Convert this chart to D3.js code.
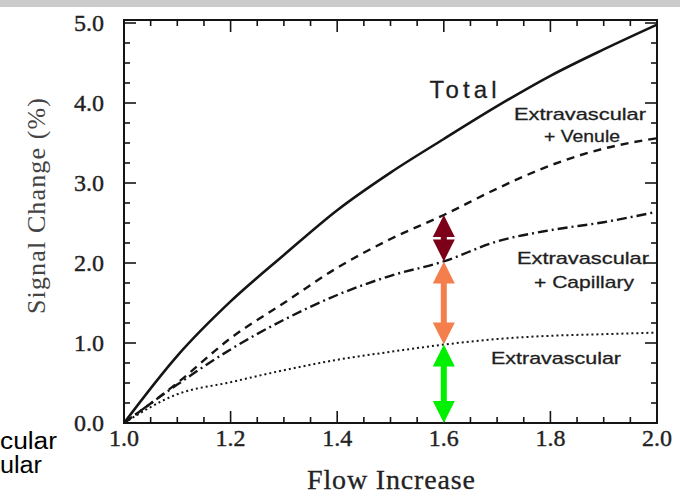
<!DOCTYPE html>
<html>
<head>
<meta charset="utf-8">
<script src="https://cdn.jsdelivr.net/npm/d3@7"></script>
<style>
  html, body { margin: 0; padding: 0; background: #fff; }
  svg { display: block; }
</style>
</head>
<body>
<div id="chart"></div>
<script>
// Signal change vs flow increase — recreated from a scanned figure

const flow = [1.0, 1.1, 1.2, 1.3, 1.4, 1.5, 1.6, 1.7, 1.8, 1.9, 2.0];
const total = [0, 0.84, 1.52, 2.1, 2.66, 3.13, 3.55, 3.96, 4.34, 4.67, 4.98];
const venule = [0, 0.5, 1.06, 1.5, 1.94, 2.3, 2.6, 2.93, 3.22, 3.43, 3.56];
const capillary = [0, 0.48, 0.92, 1.29, 1.6, 1.84, 2.02, 2.27, 2.41, 2.51, 2.64];
const extra = [0, 0.36, 0.51, 0.66, 0.79, 0.89, 0.98, 1.05, 1.09, 1.11, 1.13];

const xTicks = [1.0, 1.2, 1.4, 1.6, 1.8, 2.0];
const yTicks = [0, 1, 2, 3, 4, 5];

// double arrows at flow = 1.6: [from, to, colour]
const arrows = [
  { x: 1.6, y0: 2.6, y1: 2.02, color: '#7c0018' },
  { x: 1.6, y0: 2.02, y1: 0.98, color: '#f47f4d' },
  { x: 1.6, y0: 0.98, y1: 0.0, color: '#00f000' }
];

const W = 680, H = 494;
const svg = d3.select('#chart').append('svg')
  .attr('width', W)
  .attr('height', H);

// grey strip along the top
svg.append('rect').attr('x', 0).attr('y', 0).attr('width', W).attr('height', 7).attr('fill', '#cbcbcb');

const x = d3.scaleLinear().domain([1, 2]).range([124, 657]);
const y = d3.scaleLinear().domain([0, 5]).range([423, 23]);

const ink = '#151515';
const serif = '"Liberation Serif", "DejaVu Serif", serif';
const sans = '"Liberation Sans", Arial, sans-serif';

// frame
svg.append('rect')
  .attr('x', x(1)).attr('y', y(5) - 3)
  .attr('width', x(2) - x(1)).attr('height', y(0) - y(5) + 3)
  .attr('fill', 'none').attr('stroke', ink).attr('stroke-width', 2);

// inward ticks on all four sides
const xMinor = d3.range(1, 2.0001, 0.05);
const yMinor = d3.range(0, 5.0001, 0.25);
const isMajor = (v, step) => Math.abs(v / step - Math.round(v / step)) < 1e-6;

const tg = svg.append('g').attr('stroke', ink).attr('stroke-width', 1.6);
xMinor.forEach(v => {
  const len = isMajor(v - 1, 0.2) ? 12 : 6;
  tg.append('line').attr('x1', x(v)).attr('x2', x(v)).attr('y1', y(0)).attr('y2', y(0) - len);
  tg.append('line').attr('x1', x(v)).attr('x2', x(v)).attr('y1', y(5) - 3).attr('y2', y(5) - 3 + len);
});
yMinor.forEach(v => {
  const len = isMajor(v, 1) ? 12 : 6;
  tg.append('line').attr('x1', x(1)).attr('x2', x(1) + len).attr('y1', y(v)).attr('y2', y(v));
  tg.append('line').attr('x1', x(2)).attr('x2', x(2) - len).attr('y1', y(v)).attr('y2', y(v));
});

// tick labels
svg.append('g').selectAll('text')
  .data(xTicks)
  .join('text')
  .attr('x', d => x(d))
  .attr('y', 446)
  .attr('text-anchor', 'middle')
  .attr('font-family', serif)
  .attr('font-size', 24)
  .attr('fill', '#222')
  .attr('stroke', '#222')
  .attr('stroke-width', 0.4)
  .text(d => d.toFixed(1));

svg.append('g').selectAll('text')
  .data(yTicks)
  .join('text')
  .attr('x', 104)
  .attr('y', d => y(d) + 8)
  .attr('text-anchor', 'end')
  .attr('font-family', serif)
  .attr('font-size', 24)
  .attr('fill', '#222')
  .attr('stroke', '#222')
  .attr('stroke-width', 0.4)
  .text(d => d.toFixed(1));

// axis titles
svg.append('text')
  .attr('x', 391).attr('y', 489)
  .attr('text-anchor', 'middle')
  .attr('font-family', serif)
  .attr('font-size', 28)
  .attr('textLength', 168)
  .attr('fill', '#222')
  .attr('stroke', '#222')
  .attr('stroke-width', 0.3)
  .text('Flow Increase');

svg.append('text')
  .attr('transform', 'translate(45,206) rotate(-90)')
  .attr('text-anchor', 'middle')
  .attr('font-family', serif)
  .attr('font-size', 26)
  .attr('textLength', 216)
  .attr('fill', '#444')
  .text('Signal Change (%)');

// curves
const series = [
  { values: total, dash: null, width: 2.6 },
  { values: venule, dash: '8,6', width: 2.4 },
  { values: capillary, dash: '10,4,2,4', width: 2.4 },
  { values: extra, dash: '2,3', width: 2 }
];

const line = d3.line()
  .x((d, i) => x(flow[i]))
  .y(d => y(d))
  .curve(d3.curveMonotoneX);

svg.append('g').selectAll('path')
  .data(series)
  .join('path')
  .attr('d', d => line(d.values))
  .attr('fill', 'none')
  .attr('stroke', ink)
  .attr('stroke-width', d => d.width)
  .attr('stroke-dasharray', d => d.dash);

// curve labels
const labels = [
  { t: 'Total', x: 463, y: 98, size: 24, len: 67, adj: 'spacing' },
  { t: 'Extravascular', x: 580, y: 120, size: 17, len: 132, adj: 'spacingAndGlyphs' },
  { t: '+ Venule', x: 582, y: 142, size: 17, len: 76, adj: 'spacingAndGlyphs' },
  { t: 'Extravascular', x: 583, y: 264, size: 17, len: 132, adj: 'spacingAndGlyphs' },
  { t: '+ Capillary', x: 584, y: 288, size: 17, len: 100, adj: 'spacingAndGlyphs' },
  { t: 'Extravascular', x: 556, y: 364, size: 17, len: 130, adj: 'spacingAndGlyphs' }
];
svg.append('g').selectAll('text')
  .data(labels)
  .join('text')
  .attr('x', d => d.x)
  .attr('y', d => d.y)
  .attr('text-anchor', 'middle')
  .attr('font-family', sans)
  .attr('font-size', d => d.size)
  .attr('textLength', d => d.len)
  .attr('lengthAdjust', d => d.adj)
  .attr('fill', '#1e1e1e')
  .attr('stroke', '#1e1e1e')
  .attr('stroke-width', 0.3)
  .text(d => d.t);

// double-headed arrows
const headLen = 22, headW = 11, shaft = 3;
arrows.forEach(a => {
  const cx = x(a.x), top = y(a.y0), bot = y(a.y1);
  const g = svg.append('g').attr('fill', a.color);
  const hl = Math.min(headLen, (bot - top) / 2);
  g.append('rect')
    .attr('x', cx - shaft).attr('y', top + hl - 1)
    .attr('width', shaft * 2).attr('height', Math.max(0, bot - top - 2 * hl + 2));
  g.append('path').attr('d', `M${cx},${top} L${cx + headW},${top + hl} L${cx - headW},${top + hl} Z`);
  g.append('path').attr('d', `M${cx},${bot} L${cx + headW},${bot - hl} L${cx - headW},${bot - hl} Z`);
});

// fragments of slide text cut by the left edge
svg.append('text').attr('x', 0).attr('y', 449)
  .attr('font-family', sans).attr('font-size', 23).attr('fill', '#000')
  .attr('textLength', 57).attr('lengthAdjust', 'spacingAndGlyphs')
  .text('cular');
svg.append('text').attr('x', 0).attr('y', 473)
  .attr('font-family', sans).attr('font-size', 23).attr('fill', '#000')
  .attr('textLength', 42).attr('lengthAdjust', 'spacingAndGlyphs')
  .text('ular');
</script>
</body>
</html>
